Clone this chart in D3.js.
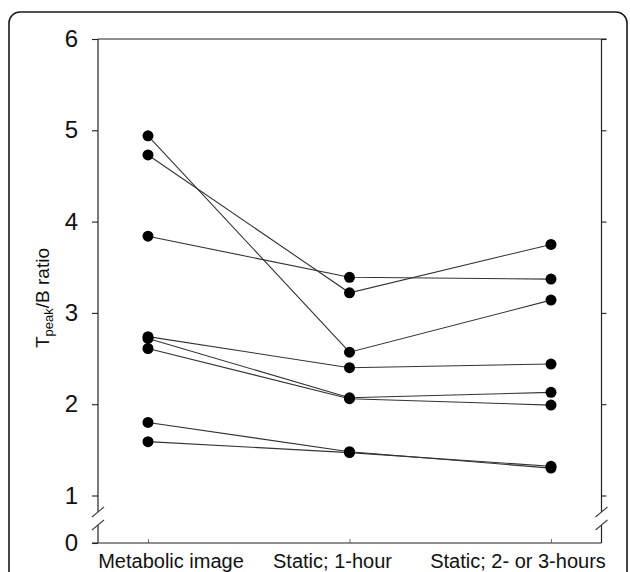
<!DOCTYPE html>
<html>
<head>
<meta charset="utf-8">
<script src="https://cdn.jsdelivr.net/npm/d3@7"></script>
<style>
  html, body { margin: 0; padding: 0; background: #fff; }
  svg { display: block; font-family: "Liberation Sans", Arial, sans-serif; }
</style>
</head>
<body>
<svg id="chart" width="630" height="572"></svg>
<script>
// ---- data ----
const categories = ["Metabolic image", "Static; 1-hour", "Static; 2- or 3-hours"];
const yTickValues = [0, 1, 2, 3, 4, 5, 6];
const yTickLabels = ["0", "1", "2", "3", "4", "5", "6"];
const patient1 = [4.94, 2.57, 3.14];
const patient2 = [4.73, 3.22, 3.75];
const patient3 = [3.84, 3.39, 3.37];
const patient4 = [2.74, 2.40, 2.44];
const patient5 = [2.72, 2.07, 2.13];
const patient6 = [2.61, 2.06, 1.99];
const patient7 = [1.80, 1.48, 1.30];
const patient8 = [1.59, 1.47, 1.32];
const series = [patient1, patient2, patient3, patient4, patient5, patient6, patient7, patient8];

(function () {
// ---- layout ----
const svg = d3.select("#chart");
const pLeft = 98, pRight = 601.5, pTop = 39, pBottom = 543;
const breakTop = 512, breakBot = 525;

// frame
svg.append("rect")
  .attr("x", 9).attr("y", 12).attr("width", 618).attr("height", 620)
  .attr("rx", 11).attr("ry", 11)
  .attr("fill", "none").attr("stroke", "#1a1a1a").attr("stroke-width", 1.6);

const x = d3.scalePoint().domain(categories).range([148, 551]);
// broken axis: 0 at bottom, 1..6 linear above
const y = d3.scaleLinear().domain([0, 1, 6]).range([pBottom, 495.5, pTop]);

const axisColor = "#222";

// left axis
const gL = svg.append("g").attr("transform", `translate(${pLeft},0)`)
  .call(d3.axisLeft(y).tickValues(yTickValues).tickFormat((d, i) => yTickLabels[i])
    .tickSize(6).tickSizeOuter(0).tickPadding(14));
gL.select(".domain").remove();
gL.selectAll("line").attr("stroke", axisColor).attr("stroke-width", 1.1);
gL.selectAll("text").attr("font-size", 24).attr("fill", "#111")
  .attr("font-family", "'Liberation Sans', Arial, sans-serif");

// right axis
const gR = svg.append("g").attr("transform", `translate(${pRight},0)`)
  .call(d3.axisRight(y).tickValues(yTickValues.filter(v => v > 0)).tickFormat("")
    .tickSize(5).tickSizeOuter(0));
gR.select(".domain").remove();
gR.selectAll("line").attr("stroke", axisColor).attr("stroke-width", 1.1);

// bottom axis with inward ticks
const gB = svg.append("g").attr("transform", `translate(0,${pBottom})`)
  .call(d3.axisBottom(x).tickSize(-4).tickSizeOuter(0).tickFormat(""));
gB.select(".domain").remove();
gB.selectAll("line").attr("stroke", "#777").attr("stroke-width", 1);

// axis lines
const lines = [
  [pLeft, pTop, pLeft, breakTop], [pLeft, breakBot, pLeft, pBottom],
  [pRight, pTop, pRight, breakTop], [pRight, breakBot, pRight, pBottom],
  [pLeft, pTop, pRight + 5, pTop], [pLeft - 6, pBottom, pRight, pBottom]
];
svg.append("g").selectAll("line").data(lines).join("line")
  .attr("x1", d => d[0]).attr("y1", d => d[1]).attr("x2", d => d[2]).attr("y2", d => d[3])
  .attr("stroke", axisColor).attr("stroke-width", 1.2);

// break marks
const breaks = [];
[pLeft, pRight].forEach(ax => [breakTop, breakBot].forEach(by => breaks.push([ax, by])));
svg.append("g").selectAll("line").data(breaks).join("line")
  .attr("x1", d => d[0] - 6).attr("y1", d => d[1] + 5)
  .attr("x2", d => d[0] + 6).attr("y2", d => d[1] - 5)
  .attr("stroke", "#444").attr("stroke-width", 1.1);

// x labels
const labelDx = [23, -17, -33];
svg.append("g").selectAll("text").data(categories).join("text")
  .attr("x", (d, i) => x(d) + labelDx[i]).attr("y", 568)
  .attr("text-anchor", "middle").attr("font-size", 20).attr("fill", "#111")
  .text(d => d);

// y label
const yl = svg.append("text")
  .attr("transform", "translate(49,298) rotate(-90)")
  .attr("text-anchor", "middle").attr("font-size", 19).attr("fill", "#111");
yl.append("tspan").text("T");
yl.append("tspan").attr("font-size", 13).attr("dy", 4).text("peak");
yl.append("tspan").attr("dy", -4).text("/B ratio");

// lines and points
const line = d3.line().x((d, i) => x(categories[i])).y(d => y(d));
svg.append("g").selectAll("path").data(series).join("path")
  .attr("d", line).attr("fill", "none").attr("stroke", "#333").attr("stroke-width", 1.1);

const pts = series.flatMap(s => s.map((v, i) => ({ c: categories[i], v })));
svg.append("g").selectAll("circle").data(pts).join("circle")
  .attr("cx", d => x(d.c)).attr("cy", d => y(d.v)).attr("r", 5.5).attr("fill", "#000");
})();
</script>
</body>
</html>
